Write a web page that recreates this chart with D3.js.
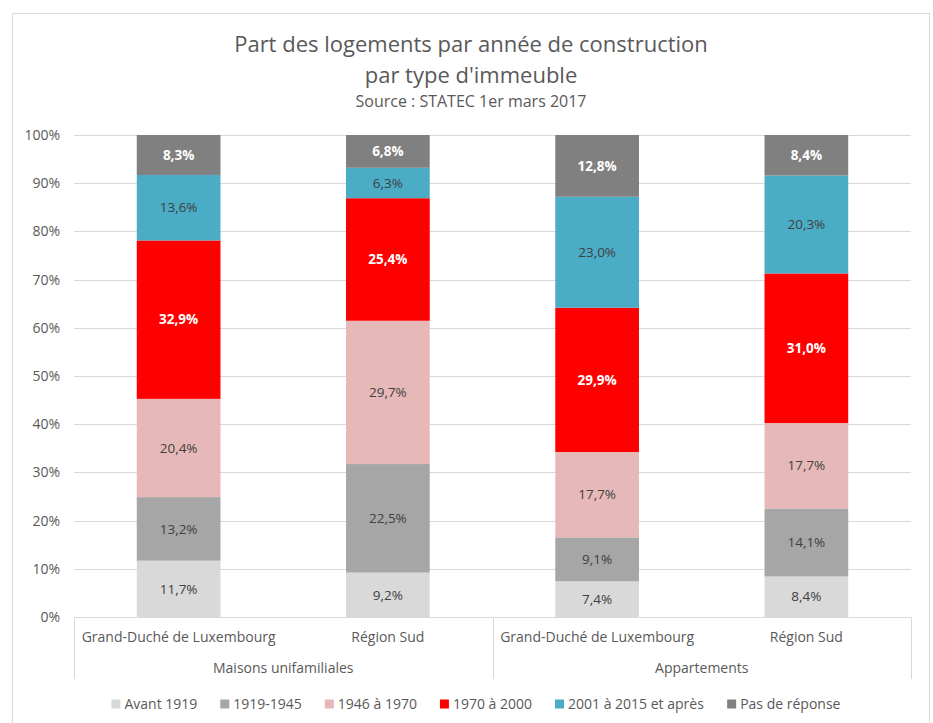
<!DOCTYPE html>
<html lang="fr">
<head>
<meta charset="utf-8">
<title>Part des logements</title>
<script src="https://cdn.jsdelivr.net/npm/d3@7"></script>
<style>
  body, html { margin:0; padding:0; background:#fff; }
  svg text { font-family: "Open Sans", sans-serif; fill:#595959; }
</style>
</head>
<body>
<svg id="chart" width="933" height="723"></svg>
<script>
// categories / series
var bars = ["GDL-M", "SUD-M", "GDL-A", "SUD-A"];
var barLabels = ["Grand-Duché de Luxembourg", "Région Sud", "Grand-Duché de Luxembourg", "Région Sud"];
var groups = ["Maisons unifamiliales", "Appartements"];
var series = ["Avant 1919", "1919-1945", "1946 à 1970", "1970 à 2000", "2001 à 2015 et après", "Pas de réponse"];
var colors = ["#d9d9d9", "#a6a6a6", "#e6b9b8", "#ff0000", "#4bacc6", "#808080"];

// values in %, one array per series (order of bars)
var avant1919 = [11.7, 9.2, 7.4, 8.4];
var y1919_1945 = [13.2, 22.5, 9.1, 14.1];
var y1946_1970 = [20.4, 29.7, 17.7, 17.7];
var y1970_2000 = [32.9, 25.4, 29.9, 31.0];
var y2001_2015 = [13.6, 6.3, 23.0, 20.3];
var pasReponse = [8.3, 6.8, 12.8, 8.4];
var yTicks = [0, 0.1, 0.2, 0.3, 0.4, 0.5, 0.6, 0.7, 0.8, 0.9, 1];

var values = [avant1919, y1919_1945, y1946_1970, y1970_2000, y2001_2015, pasReponse];
var rows = bars.map(function(b, i) {
  var r = { bar: b };
  series.forEach(function(s, j) { r[s] = values[j][i]; });
  return r;
});

var svg = d3.select("#chart");
var margin = { left: 74, right: 911, top: 135, bottom: 617 };

// frame
svg.append("rect").attr("x", 12.5).attr("y", 13.5).attr("width", 917).attr("height", 720)
  .attr("fill", "#fff").attr("stroke", "#d9d9d9");

var x = d3.scaleBand().domain(bars).range([margin.left, margin.right]).paddingInner(0.6).paddingOuter(0.3);
var y = d3.scaleLinear().domain([0, 1]).range([margin.bottom, margin.top]);

// grid
svg.append("g").selectAll("line").data(yTicks.slice(1)).enter().append("line")
  .attr("x1", margin.left).attr("x2", margin.right)
  .attr("y1", function(d) { return Math.round(y(d)) + 0.5; })
  .attr("y2", function(d) { return Math.round(y(d)) + 0.5; })
  .attr("stroke", "#d9d9d9").attr("stroke-width", 1);

svg.append("g").selectAll("text").data(yTicks).enter().append("text")
  .attr("x", 60).attr("y", function(d) { return y(d); })
  .attr("dy", "0.35em").attr("text-anchor", "end")
  .style("font-size", "14px")
  .text(function(d) { return d3.format(".0%")(d); });

// stacked bars
var stack = d3.stack().keys(series).offset(d3.stackOffsetExpand);
var layers = stack(rows);

var lg = svg.append("g").selectAll("g").data(layers).enter().append("g")
  .attr("fill", function(d, i) { return colors[i]; });
lg.selectAll("rect").data(function(d) { return d; }).enter().append("rect")
  .attr("x", function(d) { return x(d.data.bar); })
  .attr("width", x.bandwidth())
  .attr("y", function(d) { return y(d[1]); })
  .attr("height", function(d) { return y(d[0]) - y(d[1]); });

// value labels
layers.forEach(function(layer, i) {
  var light = (i === 3 || i === 5);
  svg.append("g").selectAll("text").data(layer).enter().append("text")
    .attr("x", function(d) { return x(d.data.bar) + x.bandwidth() / 2; })
    .attr("y", function(d) { return y((d[0] + d[1]) / 2); })
    .attr("dy", "0.35em").attr("text-anchor", "middle")
    .style("font-size", "13.5px")
    .style("font-weight", light ? "bold" : "normal")
    .style("fill", light ? "#ffffff" : "#404040")
    .text(function(d) { return d3.format(".1f")(d.data[layer.key]).replace(".", ",") + "%"; });
});

// category axis
svg.append("line").attr("x1", margin.left).attr("x2", margin.right)
  .attr("y1", margin.bottom + 0.5).attr("y2", margin.bottom + 0.5).attr("stroke", "#d9d9d9");
var sep = [margin.left, (x(bars[1]) + x.bandwidth() + x(bars[2])) / 2, margin.right];
svg.append("g").selectAll("line").data(sep).enter().append("line")
  .attr("x1", function(d) { return Math.round(d) + 0.5; })
  .attr("x2", function(d) { return Math.round(d) + 0.5; })
  .attr("y1", margin.bottom).attr("y2", 679)
  .attr("stroke", "#d9d9d9");

svg.append("g").selectAll("text").data(bars).enter().append("text")
  .attr("x", function(d) { return x(d) + x.bandwidth() / 2; })
  .attr("y", 637).attr("dy", "0.35em").attr("text-anchor", "middle")
  .style("font-size", "14px")
  .text(function(d, i) { return barLabels[i]; });

svg.append("g").selectAll("text").data(groups).enter().append("text")
  .attr("x", function(d, i) { return (sep[i] + sep[i + 1]) / 2; })
  .attr("y", 668).attr("dy", "0.35em").attr("text-anchor", "middle")
  .style("font-size", "14px")
  .text(function(d) { return d; });

// title
svg.append("text").attr("x", 471).attr("y", 44).attr("dy", "0.35em").attr("text-anchor", "middle")
  .style("font-size", "22px").text("Part des logements par année de construction");
svg.append("text").attr("x", 471).attr("y", 75).attr("dy", "0.35em").attr("text-anchor", "middle")
  .style("font-size", "22px").text("par type d'immeuble");
svg.append("text").attr("x", 471).attr("y", 101).attr("dy", "0.35em").attr("text-anchor", "middle")
  .style("font-size", "16px").text("Source : STATEC 1er mars 2017");

// legend
var legend = svg.append("g");
var items = legend.selectAll("g").data(series).enter().append("g");
items.append("rect").attr("width", 9).attr("height", 9).attr("y", -4.5)
  .attr("fill", function(d, i) { return colors[i]; });
items.append("text").attr("x", 13).attr("dy", "0.35em").style("font-size", "14px")
  .text(function(d) { return d; });
var gap = 23;
var lx = 0;
items.each(function() {
  d3.select(this).attr("transform", "translate(" + lx + ",0)");
  lx += this.getBBox().width + gap;
});
lx -= gap;
legend.attr("transform", "translate(" + (476 - lx / 2) + ",704)");
</script>
</body>
</html>
